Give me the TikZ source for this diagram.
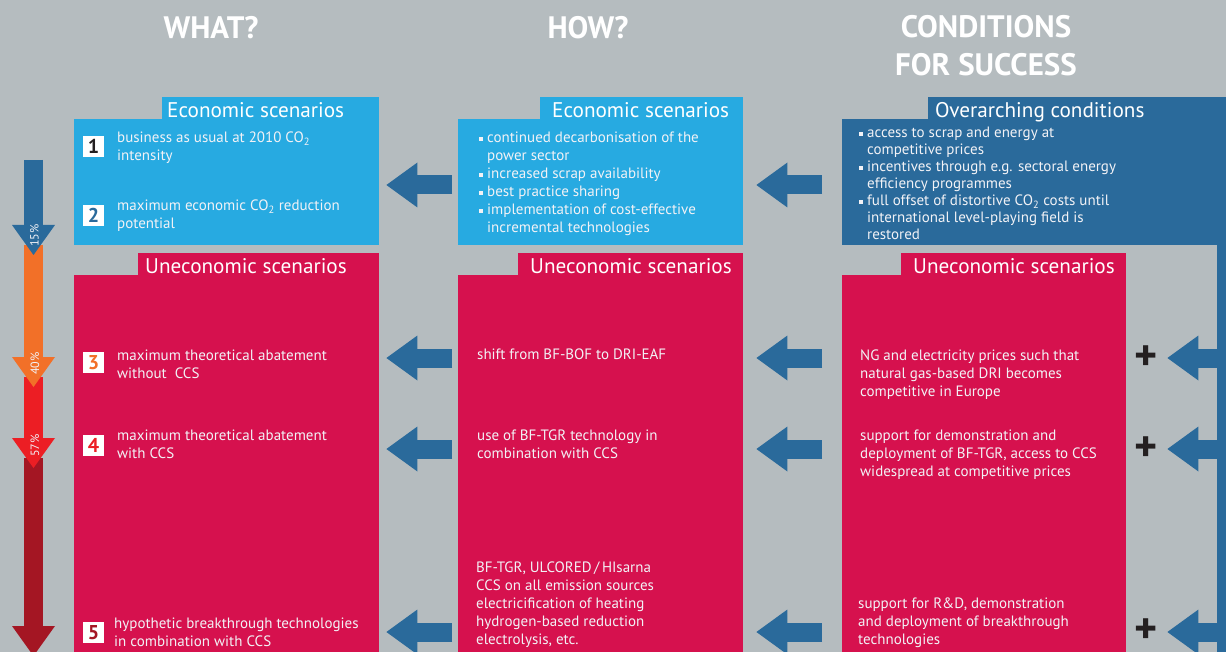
\documentclass[tikz,border=0pt]{standalone}
\usepackage{fontspec}
\setmainfont{PT Sans}
\usetikzlibrary{positioning, arrows.meta}

\definecolor{bggray}{RGB}{181,188,191}
\definecolor{skyblue}{RGB}{39,170,225}
\definecolor{steelblue}{RGB}{42,106,155}
\definecolor{crimson}{RGB}{214,17,78}
\definecolor{pctorange}{RGB}{242,112,40}
\definecolor{pctred}{RGB}{236,30,36}
\definecolor{pctdark}{RGB}{164,22,35}
\definecolor{inkdark}{RGB}{35,31,32}
\definecolor{pale}{RGB}{242,242,246}

\newcommand{\sqb}{\rule[2pt]{4pt}{4pt}\hspace{4pt}} % square bullet
\newcommand{\hang}{\hspace*{8pt}}
\newcommand{\co}{CO\textsubscript{2}}

\begin{document}
\begin{tikzpicture}[x=1pt, y=-1pt,
    box/.style={inner sep=0pt, anchor=north west},
    tab/.style={inner sep=0pt, minimum height=22pt, anchor=south east},
    head/.style={font=\fontsize{31}{38}\selectfont\bfseries, text=white, align=center, anchor=base, inner sep=0pt},
    tabtext/.style={font=\fontsize{21.2}{22}\selectfont, text=white, anchor=base west, inner sep=0pt},
    % multi-line texts sit on the baseline of their last line
    txt/.style={font=\fontsize{15}{18}\selectfont, text=pale, align=left, anchor=base west, inner sep=0pt},
    num/.style={fill=white, minimum size=21pt, inner sep=0pt, font=\fontsize{20}{20}\selectfont\bfseries},
    pct/.style={font=\fontsize{12}{12}\selectfont, text=pale, rotate=90, inner sep=0pt},
    plus/.style={font=\fontsize{44}{44}\selectfont\bfseries, text=inkdark, inner sep=0pt},
    fatarrow/.style={draw=steelblue, line width=19pt, -{Triangle[length=31pt, width=45pt, line width=0pt]}},
    drop/.style={line width=19pt, -{Triangle[length=30pt, width=43pt, line width=0pt]}}]
    \useasboundingbox (0,0) rectangle (1226,652);
    \fill[bggray] (0,0) rectangle (1226,652);

    % Column titles
    \node[head] (what) at (211,39) {WHAT?};
    \node[head] (how) at (588,39) {HOW?};
    \node[head] (cond) at (986,76) {CONDITIONS\\FOR SUCCESS};

    % What?
    \node[box, fill=skyblue, minimum width=305pt, minimum height=126pt] (whatEco) at (74,119) {};
    \node[tab, fill=skyblue, minimum width=217pt] (whatEcoTab) at (whatEco.north east) {};
    \node[tabtext] (whatEcoHead) at (167,117.5) {Economic scenarios};
    \node[box, fill=crimson, minimum width=305pt, minimum height=377pt] (whatUne) at (74,275) {};
    \node[tab, fill=crimson, minimum width=241pt] (whatUneTab) at (whatUne.north east) {};
    \node[tabtext] (whatUneHead) at (145,273.5) {Uneconomic scenarios};

    % How?
    \node[box, fill=skyblue, minimum width=285pt, minimum height=126pt] (howEco) at (458,119) {};
    \node[tab, fill=skyblue, minimum width=203pt] (howEcoTab) at (howEco.north east) {};
    \node[tabtext] (howEcoHead) at (552,117.5) {Economic scenarios};
    \node[box, fill=crimson, minimum width=285pt, minimum height=377pt] (howUne) at (458,275) {};
    \node[tab, fill=crimson, minimum width=225pt] (howUneTab) at (howUne.north east) {};
    \node[tabtext] (howUneHead) at (530,273.5) {Uneconomic scenarios};

    % Conditions for success
    \node[box, fill=steelblue, minimum width=384pt, minimum height=126pt] (condEco) at (842,119) {};
    \node[tab, fill=steelblue, minimum width=298pt] (condEcoTab) at (condEco.north east) {};
    \node[tabtext] (condEcoHead) at (935,117.5) {Overarching conditions};
    \node[box, fill=steelblue, minimum width=9pt, minimum height=533pt] (condBar) at (1217,119) {};
    \node[box, fill=crimson, minimum width=284pt, minimum height=377pt] (condUne) at (842,275) {};
    \node[tab, fill=crimson, minimum width=225pt] (condUneTab) at (condUne.north east) {};
    \node[tabtext] (condUneHead) at (913,273.5) {Uneconomic scenarios};

    % Scenario numbers
    \node[num, text=inkdark] (n1) at (93.5,146.5) {1};
    \node[num, text=steelblue] (n2) at (93.5,215.5) {2};
    \node[num, text=pctorange] (n3) at (93.5,362.5) {3};
    \node[num, text=pctred] (n4) at (93.5,445.5) {4};
    \node[num, text=pctdark] (n5) at (93.5,632.5) {5};

    % Scenario texts
    \node[txt] (t1) at (117,161) {business as usual at 2010 \co\\intensity};
    \node[txt] (t2) at (117,229) {maximum economic \co{} reduction\\potential};
    \node[txt] (t3) at (117,378) {maximum theoretical abatement\\without~ CCS};
    \node[txt] (t4) at (117,458) {maximum theoretical abatement\\with CCS};
    \node[txt] (t5) at (114,646) {hypothetic breakthrough technologies\\in combination with CCS};

    % Measures
    \node[txt] (h12) at (479,233) {\sqb continued decarbonisation of the\\\hang power sector\\\sqb increased scrap availability\\\sqb best practice sharing\\\sqb implementation of cost-effective\\\hang incremental technologies};
    \node[txt] (h3) at (477,359) {shift from BF-BOF to DRI-EAF};
    \node[txt] (h4) at (477,458) {use of BF-TGR technology in\\combination with CCS};
    \node[txt] (h5) at (476,644) {BF-TGR, ULCORED\,/\,HIsarna\\CCS on all emission sources\\electricification of heating\\hydrogen-based reduction\\electrolysis, etc.};

    % Conditions
    \node[txt, font=\fontsize{15}{17}\selectfont] (c12) at (859,240) {\sqb access to scrap and energy at\\\hang competitive prices\\\sqb incentives through e.g. sectoral energy\\\hang efficiency programmes\\\sqb full offset of distortive \co{} costs until\\\hang international level-playing field is\\\hang restored};
    \node[txt] (c3) at (860,396) {NG and electricity prices such that\\natural gas-based DRI becomes\\competitive in Europe};
    \node[txt] (c4) at (860,476) {support for demonstration and\\deployment of BF-TGR, access to CCS\\widespread at competitive prices};
    \node[txt] (c5) at (858,644) {support for R\&D, demonstration\\and deployment of breakthrough\\technologies};

    % Plus signs
    \node[plus] (plus3) at (1146,358) {+};
    \node[plus] (plus4) at (1146,449) {+};
    \node[plus] (plus5) at (1146,631) {+};

    % Rows
    \coordinate (r1) at (0,185);
    \coordinate (r3) at (0,358);
    \coordinate (r4) at (0,449);
    \coordinate (r5) at (0,632);

    % Arrows between columns
    \draw[fatarrow, shorten <=6pt, shorten >=7pt] (howEco.west |- r1) -- (whatEco.east |- r1);
    \draw[fatarrow, shorten <=20pt, shorten >=13pt] (condEco.west |- r1) -- (howEco.east |- r1);
    \foreach \r in {r3, r4, r5} {
        \draw[fatarrow, shorten <=6pt, shorten >=7pt] (howUne.west |- \r) -- (whatUne.east |- \r);
        \draw[fatarrow, shorten <=20pt, shorten >=13pt] (condUne.west |- \r) -- (howUne.east |- \r);
        \draw[fatarrow, shorten >=41pt] (condBar.west |- \r) -- (condUne.east |- \r);
    }

    % Reduction scale
    \coordinate (p0) at (33.5,160);
    \coordinate (p15) at (33.5,255);
    \coordinate (p40) at (33.5,387);
    \coordinate (p57) at (33.5,468);
    \coordinate (pmax) at (33.5,656);
    \draw[drop, draw=pctdark] ([yshift=10pt]p57) -- (pmax);
    \draw[drop, draw=pctred] ([yshift=10pt]p40) -- (p57);
    \draw[drop, draw=pctorange] ([yshift=10pt]p15) -- (p40);
    \draw[drop, draw=steelblue] (p0) -- (p15);
    \node[pct] (l15) at (34.5,235.5) {15\%};
    \node[pct] (l40) at (35,363.5) {40\%};
    \node[pct] (l57) at (35,445.5) {57\%};
\end{tikzpicture}
\end{document}
